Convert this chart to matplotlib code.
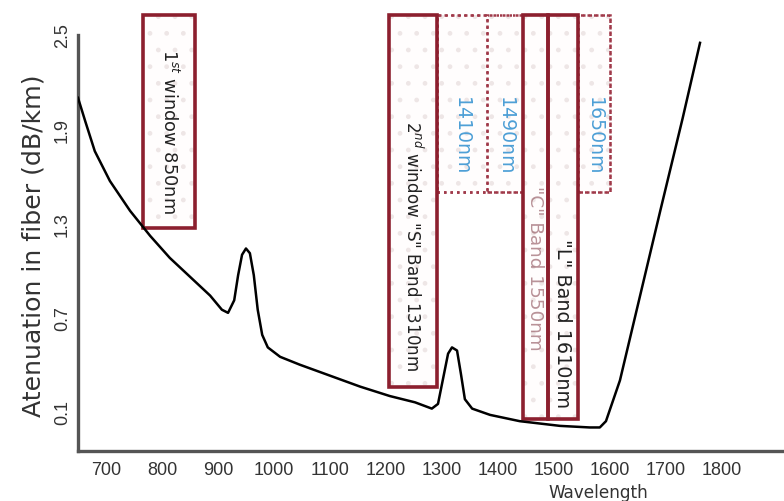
import matplotlib
matplotlib.use("Agg")
import matplotlib.pyplot as plt
from matplotlib.patches import Rectangle

plt.rcParams['font.family'] = ['Liberation Sans', 'DejaVu Sans']
plt.rcParams['hatch.linewidth'] = 1.0

# Attenuation curve (wavelength in nm, attenuation in dB/km)
wavelength = [650, 663, 680, 707, 743, 779, 814, 850, 886, 907, 918, 929, 936, 943, 950,
              957, 964, 971, 979, 989, 1011, 1046, 1100, 1154, 1207, 1252, 1282, 1293,
              1302, 1311, 1318, 1327, 1334, 1341, 1354, 1386, 1439, 1511, 1564, 1582,
              1593, 1618, 1650, 1690, 1730, 1761]
attenuation = [2.10, 1.95, 1.76, 1.57, 1.38, 1.22, 1.08, 0.96, 0.84, 0.75, 0.73, 0.81, 0.97,
               1.10, 1.14, 1.11, 0.97, 0.75, 0.59, 0.51, 0.45, 0.40, 0.33, 0.26, 0.20, 0.16,
               0.12, 0.15, 0.31, 0.47, 0.51, 0.49, 0.34, 0.18, 0.12, 0.08, 0.04, 0.01,
               0.00, 0.00, 0.04, 0.30, 0.78, 1.38, 1.97, 2.45]

xticks = [700, 800, 900, 1000, 1100, 1200, 1300, 1400, 1500, 1600, 1700, 1800]
yticks = [0.1, 0.7, 1.3, 1.9, 2.5]

# Solid window / band boxes
band_x0 = [766, 1205, 1445, 1489]
band_x1 = [859, 1291, 1489, 1543]
band_y0 = [1.27, 0.26, 0.056, 0.056]
band_labels = ["1$^{st}$ window 850nm", "2$^{nd}$ window \"S\" Band 1310nm",
               "\"C\" Band 1550nm", "\"L\" Band 1610nm"]
band_text_y = [1.89, 1.16, 1.02, 0.67]
band_text_len = [165, 250, 165, 170]

# Dotted sub-bands
sub_x0 = [1291, 1380, 1543]
sub_x1 = [1380, 1445, 1600]
sub_labels = ["1410nm", "1490nm", "1650nm"]
box_top = 2.63
sub_bottom = 1.50

dark_red = "#8c1f2e"
blue = "#4d9fd6"
wide = ['DejaVu Sans']

fig = plt.figure(figsize=(7.84, 5.02), dpi=100)
ax = fig.add_axes([78 / 784, 1 - 452 / 502, 706 / 784, (452 - 36) / 502])
ax.set_xlim(650, 1911)
ax.set_ylim(-0.15, 2.5)
renderer = fig.canvas.get_renderer()


def fit_length(txt, target_px, vertical=True):
    """Scale the font so the text's run length equals target_px."""
    bb = txt.get_window_extent(renderer)
    cur = bb.height if vertical else bb.width
    txt.set_fontsize(txt.get_fontsize() * target_px / cur)


def boxed(x0, x1, y0, y1, edge, lw, ls, z):
    ax.add_patch(Rectangle((x0, y0), x1 - x0, y1 - y0, facecolor="#fffdfd",
                           edgecolor="#eee6e6", hatch=".", lw=0, clip_on=False,
                           zorder=z))
    ax.add_patch(Rectangle((x0, y0), x1 - x0, y1 - y0, facecolor="none",
                           edgecolor=edge, lw=lw, linestyle=ls, clip_on=False,
                           zorder=z + 0.5))


# dotted region
for x0, x1 in zip(sub_x0, sub_x1):
    boxed(x0, x1, sub_bottom, box_top, "#a03a4a", 1.8, (0, (1, 1.6)), 1)
ax.add_patch(Rectangle((1291, sub_bottom), 1600 - 1291, box_top - sub_bottom,
                       facecolor="none", edgecolor="#a03a4a", lw=1.8,
                       linestyle=(0, (1, 1.6)), clip_on=False, zorder=1.6))
for x0, x1, lab in zip(sub_x0, sub_x1, sub_labels):
    t = ax.text((x0 + x1) / 2, 1.86, lab, rotation=-90, ha="center", va="center",
                color=blue, fontsize=10, zorder=3, clip_on=False, family=wide)
    fit_length(t, 78)

for i, (x0, x1, y0, lab, ty, tl) in enumerate(zip(band_x0, band_x1, band_y0,
                                                    band_labels, band_text_y,
                                                    band_text_len)):
    boxed(x0, x1, y0, box_top, dark_red, 2.6, "-", 2)
    col = "#8a4a54" if i == 2 else "#222222"
    t = ax.text((x0 + x1) / 2, ty, lab, rotation=-90, ha="center", va="center",
                color=col, fontsize=10, alpha=0.6 if i == 2 else 1, zorder=3,
                clip_on=False, family=wide)
    fit_length(t, tl)

ax.plot(wavelength, attenuation, color="black", lw=1.8, zorder=4,
        solid_joinstyle="round")

ax.set_xticks(xticks)
ax.set_xticklabels([str(v) for v in xticks], fontsize=13, color="#333333")
ax.set_yticks(yticks)
ax.set_yticklabels([str(v) for v in yticks], fontsize=13, rotation=90,
                   va="center", color="#333333")
ax.tick_params(axis="both", length=0)
ax.tick_params(axis="y", pad=5)
ax.tick_params(axis="x", pad=7)

for s in ["top", "right"]:
    ax.spines[s].set_visible(False)
for s in ["left", "bottom"]:
    ax.spines[s].set_color("#555555")
    ax.spines[s].set_linewidth(2.4)

yl = fig.text(34 / 784, 1 - 246 / 502, "Atenuation in fiber (dB/km)", rotation=90,
              ha="center", va="center", fontsize=14, color="#333333", family=wide)
fit_length(yl, 345)
xl = fig.text(598 / 784, 1 - 493 / 502, "Wavelength", ha="center", va="center",
              fontsize=11, color="#333333", family=wide)
fit_length(xl, 100, vertical=False)

fig.savefig("out.png", dpi=100)
